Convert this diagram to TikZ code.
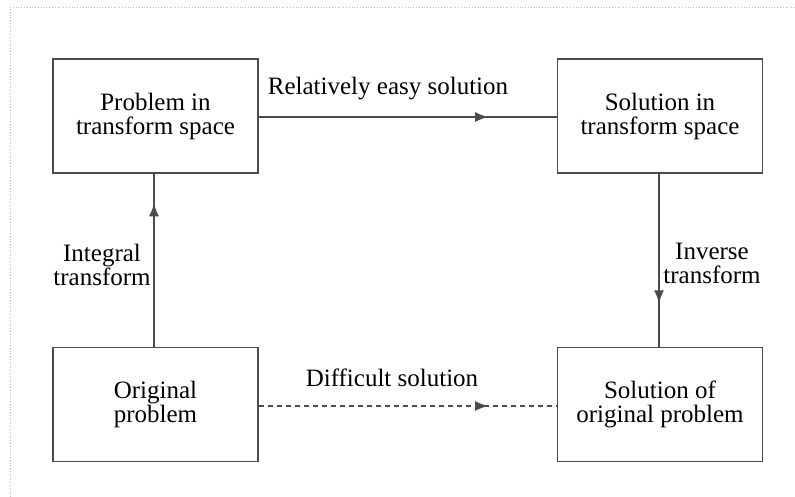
\documentclass[tikz,border=0pt]{standalone}
\usepackage{fontspec}
\setmainfont{Liberation Serif}
\usetikzlibrary{decorations.markings,arrows.meta}
\begin{document}
\begin{tikzpicture}[x=1pt,y=-1pt,
  every node/.style={font=\fontsize{25}{24}\selectfont, text=black},
  box/.style={draw=black!70, line width=1.8pt, minimum width=205pt, minimum height=114pt, align=center, inner sep=0pt},
  lbl/.style={align=center, inner sep=0pt},
  conn/.style={draw=black!70, line width=1.6pt},
  midarrow/.style={postaction={decorate}, decoration={markings, mark=at position #1 with {\arrow{Latex[length=13pt,width=10pt]}}}}
]
\useasboundingbox (0,0) rectangle (795,497);
\draw[black!25, dotted, line width=0.8pt] (10,497) -- (10,7) -- (795,7);
\node[box] (tl) at (155.5,116) {Problem in\\transform space};
\node[box] (tr) at (660,116) {Solution in\\transform space};
\node[box] (bl) at (155.5,404.5) {Original\\problem};
\node[box] (br) at (660,404.5) {Solution of\\original problem};
\draw[conn, midarrow=0.77] (tl.east |- 0,117) -- (tr.west |- 0,117);
\draw[conn, midarrow=0.83] (bl.north -| 154,0) -- (tl.south -| 154,0);
\draw[conn, midarrow=0.75] (tr.south -| 659,0) -- (br.north -| 659,0);
\draw[conn, dashed, dash pattern=on 5pt off 4pt, midarrow=0.77] (bl.east |- 0,406) -- (br.west |- 0,406);
\node[lbl] (l1) at (388,89) {Relatively easy solution};
\node[lbl] (l2) at (392,378) {Difficult solution};
\node[lbl] (l3) at (102,265) {Integral\\transform};
\node[lbl] (l4) at (712,263) {Inverse\\transform};
\end{tikzpicture}
\end{document}
